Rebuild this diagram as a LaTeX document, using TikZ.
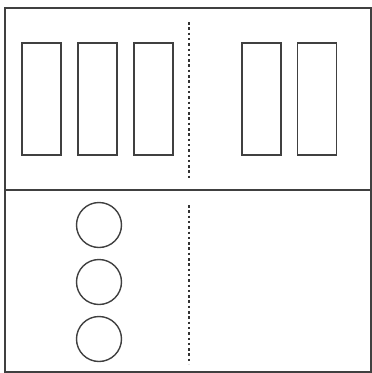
\documentclass[tikz,border=0pt]{standalone}
\usetikzlibrary{positioning}

\begin{document}
\begin{tikzpicture}[x=1pt,y=-1pt,
  slot/.style={draw=black!75,line width=1.4pt,minimum width=39pt,minimum height=112pt,inner sep=0pt},
  disc/.style={draw=black!75,line width=1.4pt,circle,minimum size=45pt,inner sep=0pt},
  divider/.style={draw=black!80,line width=1.6pt,dash pattern=on 2.5pt off 2.8pt}]
\useasboundingbox (0,0) rectangle (372,373);
\draw[black!75,line width=2pt] (5,8) rectangle (371,372);
\draw[black!75,line width=2pt] (5,190) -- (371,190);
\node[slot] (r1) at (41.5,99) {};
\node[slot] (r2) at (97.5,99) {};
\node[slot] (r3) at (153.5,99) {};
\node[slot] (r4) at (261.5,99) {};
\node[slot] (r5) at (317,99) {};
\node[disc] (c1) at (99,225) {};
\node[disc] (c2) at (99,282) {};
\node[disc] (c3) at (99,339) {};
\coordinate (t1) at (189,22);
\coordinate (t2) at (189,180);
\coordinate (b1) at (189,205);
\coordinate (b2) at (189,364);
\draw[divider] (t1) -- (t2);
\draw[divider] (b1) -- (b2);
\end{tikzpicture}
\end{document}
